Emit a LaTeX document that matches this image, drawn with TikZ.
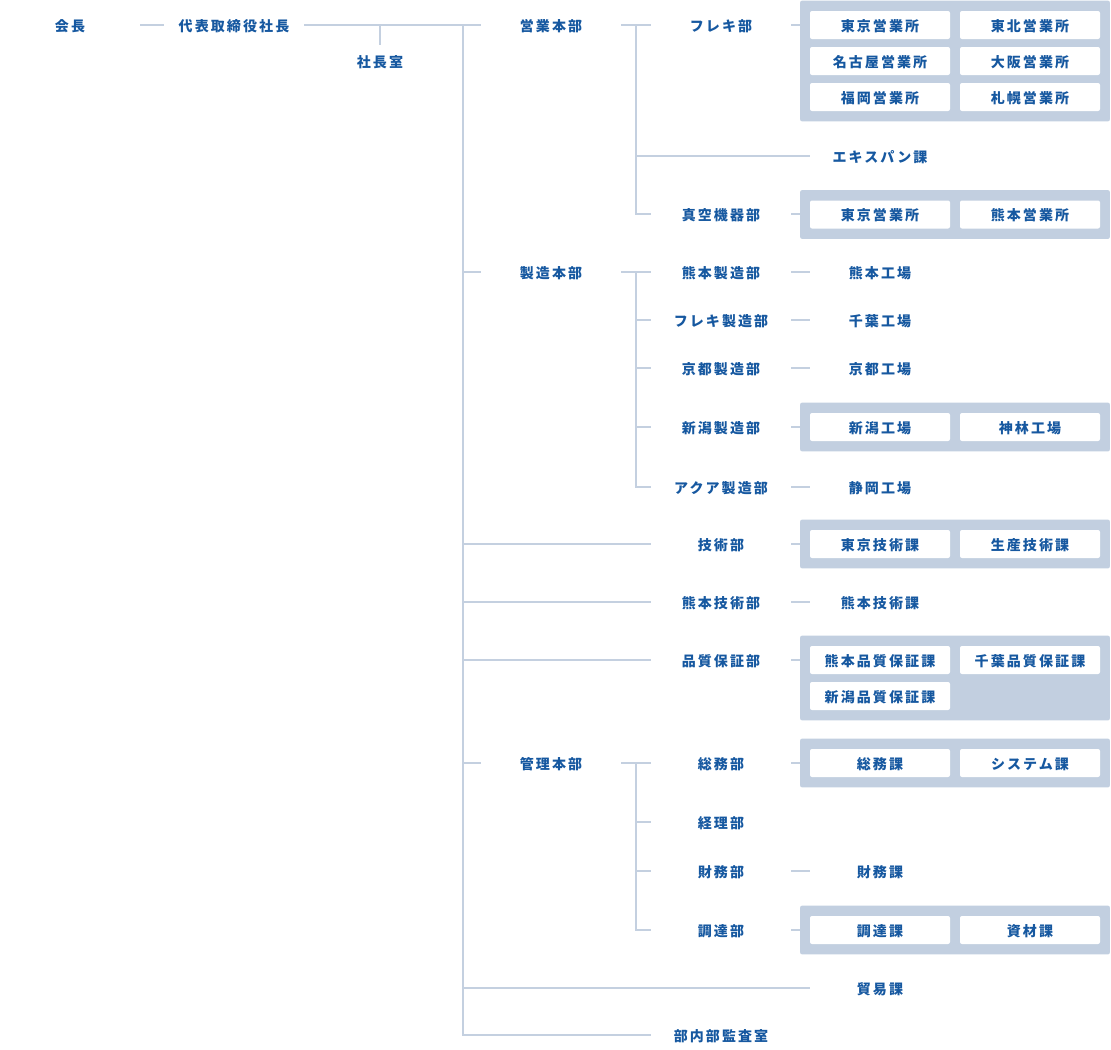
\documentclass[tikz,border=0pt]{standalone}
\usepackage{fontspec}
\newfontfamily\jp{Noto Sans CJK JP}[LetterSpace=15]
\usetikzlibrary{fit,backgrounds}
\definecolor{txt}{RGB}{22,88,160}
\definecolor{ln}{RGB}{196,208,224}
\definecolor{pnl}{RGB}{194,207,224}
\begin{document}
\begin{tikzpicture}[x=0.75pt,y=-0.75pt,
  lbl/.style={text=txt,font=\jp\bfseries\fontsize{10.5pt}{12pt}\selectfont,minimum width=105pt,minimum height=21pt,inner sep=0pt,text height=10.6pt,text depth=1.3pt},
  bx/.style={lbl,fill=white,rounded corners=1.5pt},
  panel/.style={fill=pnl,rounded corners=1.5pt,inner xsep=7.2pt,inner ysep=7.6pt},
  conn/.style={draw=ln,line width=1.5pt}]
\useasboundingbox (0,0) rectangle (1111,1050);
% top
\node[lbl] (kaicho) at (70,25) {会長};
\node[lbl] (pres) at (234,25) {代表取締役社長};
\node[lbl] (shitsu) at (380,61) {社長室};
% 営業本部
\node[lbl] (eigyo) at (551,25) {営業本部};
\node[lbl] (flex) at (721,25) {フレキ部};
\node[bx] (b1) at (880,25) {東京営業所};
\node[bx] (b2) at (1030,25) {東北営業所};
\node[bx] (b3) at (880,61) {名古屋営業所};
\node[bx] (b4) at (1030,61) {大阪営業所};
\node[bx] (b5) at (880,97) {福岡営業所};
\node[bx] (b6) at (1030,97) {札幌営業所};
\node[lbl] (expan) at (880,156) {エキスパン課};
\node[lbl] (shinku) at (721,214) {真空機器部};
\node[bx] (c1) at (880,214.5) {東京営業所};
\node[bx] (c2) at (1030,214.5) {熊本営業所};
% 製造本部
\node[lbl] (seizo) at (551,272) {製造本部};
\node[lbl] (kmfg) at (721,272) {熊本製造部};
\node[lbl] (kfac) at (880,272) {熊本工場};
\node[lbl] (fmfg) at (721,320) {フレキ製造部};
\node[lbl] (cfac) at (880,320) {千葉工場};
\node[lbl] (kymfg) at (721,368) {京都製造部};
\node[lbl] (kyfac) at (880,368) {京都工場};
\node[lbl] (nmfg) at (721,427) {新潟製造部};
\node[bx] (n1) at (880,427) {新潟工場};
\node[bx] (n2) at (1030,427) {神林工場};
\node[lbl] (amfg) at (721,487) {アクア製造部};
\node[lbl] (sfac) at (880,487) {静岡工場};
% 技術
\node[lbl] (gijutsu) at (721,544) {技術部};
\node[bx] (g1) at (880,544) {東京技術課};
\node[bx] (g2) at (1030,544) {生産技術課};
\node[lbl] (kgijutsu) at (721,602) {熊本技術部};
\node[lbl] (kgka) at (880,602) {熊本技術課};
\node[lbl] (hin) at (721,660) {品質保証部};
\node[bx] (q1) at (880,660) {熊本品質保証課};
\node[bx] (q2) at (1030,660) {千葉品質保証課};
\node[bx] (q3) at (880,696) {新潟品質保証課};
% 管理本部
\node[lbl] (kanri) at (551,763) {管理本部};
\node[lbl] (somu) at (721,763) {総務部};
\node[bx] (s1b) at (880,763) {総務課};
\node[bx] (s2b) at (1030,763) {システム課};
\node[lbl] (keiri) at (721,822) {経理部};
\node[lbl] (zaimu) at (721,871) {財務部};
\node[lbl] (zaimuka) at (880,871) {財務課};
\node[lbl] (chotatsu) at (721,930) {調達部};
\node[bx] (d1) at (880,930) {調達課};
\node[bx] (d2) at (1030,930) {資材課};
\node[lbl] (boeki) at (880,988) {貿易課};
\node[lbl] (kansa) at (721,1035) {部内部監査室};
% panels
\begin{scope}[on background layer]
\node[panel,fit=(b1)(b6)] (p1) {};
\node[panel,fit=(c1)(c2)] (p2) {};
\node[panel,fit=(n1)(n2)] (p3) {};
\node[panel,fit=(g1)(g2)] (p4) {};
\node[panel,fit=(q1)(q2)(q3)] (p5) {};
\node[panel,fit=(s1b)(s2b)] (p6) {};
\node[panel,fit=(d1)(d2)] (p7) {};
\end{scope}
% coordinates
\coordinate (t) at (463,25);
\coordinate (u1) at (636,25);
\coordinate (u2) at (636,272);
\coordinate (u3) at (636,763);
% connectors
\draw[conn] (kaicho.east) -- (pres.west);
\draw[conn] (pres.east) -- (eigyo.west);
\draw[conn] (shitsu.north) ++(0,-2) coordinate (sn) -- (sn |- pres.east);
\draw[conn] (t) |- (kansa.west);
\draw[conn] (seizo.west -| t) -- (seizo.west);
\draw[conn] (gijutsu.west -| t) -- (gijutsu.west);
\draw[conn] (kgijutsu.west -| t) -- (kgijutsu.west);
\draw[conn] (hin.west -| t) -- (hin.west);
\draw[conn] (kanri.west -| t) -- (kanri.west);
\draw[conn] (boeki.west -| t) -- (boeki.west);
% 営業
\draw[conn] (eigyo.east) -- (flex.west);
\draw[conn] (u1) |- (shinku.west);
\draw[conn] (expan.west -| u1) -- (expan.west);
\draw[conn] (flex.east) -- (flex.east -| p1.west);
\draw[conn] (shinku.east) -- (shinku.east -| p2.west);
% 製造
\draw[conn] (seizo.east) -- (kmfg.west);
\draw[conn] (u2) |- (amfg.west);
\draw[conn] (fmfg.west -| u2) -- (fmfg.west);
\draw[conn] (kymfg.west -| u2) -- (kymfg.west);
\draw[conn] (nmfg.west -| u2) -- (nmfg.west);
\draw[conn] (kmfg.east) -- (kfac.west);
\draw[conn] (fmfg.east) -- (cfac.west);
\draw[conn] (kymfg.east) -- (kyfac.west);
\draw[conn] (nmfg.east) -- (nmfg.east -| p3.west);
\draw[conn] (amfg.east) -- (sfac.west);
% 技術
\draw[conn] (gijutsu.east) -- (gijutsu.east -| p4.west);
\draw[conn] (kgijutsu.east) -- (kgka.west);
\draw[conn] (hin.east) -- (hin.east -| p5.west);
% 管理
\draw[conn] (kanri.east) -- (somu.west);
\draw[conn] (u3) |- (chotatsu.west);
\draw[conn] (keiri.west -| u3) -- (keiri.west);
\draw[conn] (zaimu.west -| u3) -- (zaimu.west);
\draw[conn] (somu.east) -- (somu.east -| p6.west);
\draw[conn] (zaimu.east) -- (zaimuka.west);
\draw[conn] (chotatsu.east) -- (chotatsu.east -| p7.west);
\end{tikzpicture}
\end{document}
